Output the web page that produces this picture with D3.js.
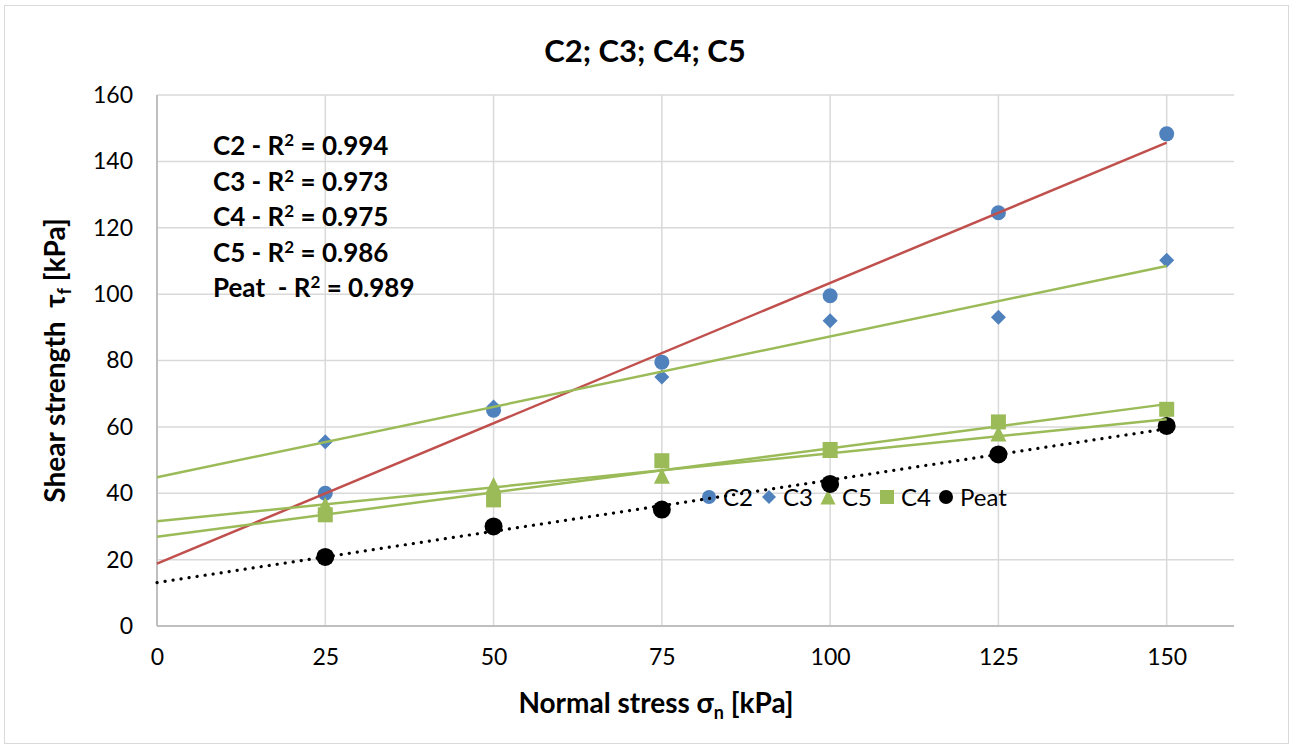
<!DOCTYPE html>
<html>
<head>
<meta charset="utf-8">
<script src="https://cdn.jsdelivr.net/npm/d3@7"></script>
<style>
  body { margin: 0; background: #fff; }
  text { font-family: Lato, "Open Sans", sans-serif; fill: #000; }
</style>
</head>
<body>
<div id="chart"></div>
<script>
// values
const stress = [25, 50, 75, 100, 125, 150]
const c2 = [40, 65, 79.5, 99.5, 124.5, 148.3]
const c3 = [55.5, 66, 75, 92, 93, 110.2]
const c5 = [36.5, 42.5, 45.3, 53, 58, 61.5]
const c4 = [33.5, 38, 49.8, 53.2, 61.5, 65.3]
const peat = [20.8, 30, 35.1, 42.8, 51.7, 60.3]
const xTicks = [0, 25, 50, 75, 100, 125, 150]
const yTicks = [0, 20, 40, 60, 80, 100, 120, 140, 160]
const r2Labels = [["C2", "0.994"], ["C3", "0.973"], ["C4", "0.975"], ["C5", "0.986"], ["Peat ", "0.989"]]

const width = 1290, height = 745
const margin = { top: 95, right: 56, bottom: 119, left: 157 }

const blue = "#4f81bd", red = "#c0504d", green = "#9bbb59"

const series = [
    { name: "C2", values: c2, marker: "circle", color: blue, trend: red, dotted: false, size: 7.5 },
    { name: "C3", values: c3, marker: "diamond", color: blue, trend: green, dotted: false, size: 7.5 },
    { name: "C5", values: c5, marker: "triangle", color: green, trend: green, dotted: false, size: 8 },
    { name: "C4", values: c4, marker: "square", color: green, trend: green, dotted: false, size: 7.5 },
    { name: "Peat", values: peat, marker: "circle", color: "#000", trend: "#000", dotted: true, size: 9 }
]

const svg = d3.select("#chart").append("svg")
    .attr("width", width)
    .attr("height", height)

svg.append("rect")
    .attr("x", 4.5).attr("y", 5.5)
    .attr("width", 1284).attr("height", 738)
    .attr("fill", "#fff")
    .attr("stroke", "#d9d9d9")
    .attr("stroke-width", 1)

const x = d3.scaleLinear().domain([0, 160]).range([margin.left, width - margin.right])
const y = d3.scaleLinear().domain([0, 160]).range([height - margin.bottom, margin.top])

// grid
const grid = svg.append("g")
grid.selectAll(".hgrid").data(yTicks.filter(d => d > 0)).join("line")
    .attr("x1", x(0)).attr("x2", x(160))
    .attr("y1", d => y(d)).attr("y2", d => y(d))
    .attr("stroke", "#d9d9d9").attr("stroke-width", 1.5)
grid.selectAll(".vgrid").data(xTicks.filter(d => d > 0)).join("line")
    .attr("x1", d => x(d)).attr("x2", d => x(d))
    .attr("y1", y(0)).attr("y2", y(160))
    .attr("stroke", "#d9d9d9").attr("stroke-width", 1.5)

// axes
const xAxis = svg.append("g")
    .attr("transform", `translate(0, ${y(0)})`)
    .call(d3.axisBottom(x).tickValues(xTicks).tickSize(0).tickPadding(23))
const yAxis = svg.append("g")
    .attr("transform", `translate(${x(0)}, 0)`)
    .call(d3.axisLeft(y).tickValues(yTicks).tickSize(0).tickPadding(24))

for (const ax of [xAxis, yAxis]) {
    ax.select(".domain").attr("stroke", "#bfbfbf").attr("stroke-width", 2)
    ax.selectAll("text").attr("font-size", "23px").attr("font-family", "Lato")
}
xAxis.select(".domain").attr("d", `M${x(0)},0H${x(160)}`)
yAxis.select(".domain").attr("d", `M0,${y(0)}V${y(160)}`)

// title + axis labels
svg.append("text")
    .attr("x", 645).attr("y", 62)
    .attr("text-anchor", "middle")
    .attr("font-weight", "bold")
    .attr("font-size", "31px")
    .text("C2; C3; C4; C5")

const xl = svg.append("text")
    .attr("x", 656).attr("y", 713)
    .attr("text-anchor", "middle")
    .attr("font-weight", "bold")
    .attr("font-size", "28px")
xl.append("tspan").text("Normal stress σ")
xl.append("tspan").attr("font-size", "18px").attr("dy", 6).text("n")
xl.append("tspan").attr("dy", -6).text(" [kPa]")

const yl = svg.append("text")
    .attr("transform", `translate(65, ${(y(0) + y(160)) / 2}) rotate(-90)`)
    .attr("text-anchor", "middle")
    .attr("font-weight", "bold")
    .attr("font-size", "28px")
    .attr("xml:space", "preserve")
yl.append("tspan").text("Shear strength  τ")
yl.append("tspan").attr("font-size", "18px").attr("dy", 6).text("f")
yl.append("tspan").attr("dy", -6).text(" [kPa]")

// R² annotation
const note = svg.append("g")
r2Labels.forEach(([name, r2], i) => {
    const t = note.append("text")
        .attr("x", 213).attr("y", 155 + i * 35.5)
        .attr("font-weight", "bold")
        .attr("font-size", "26px")
        .attr("xml:space", "preserve")
    t.append("tspan").text(`${name} - R`)
    t.append("tspan").attr("font-size", "17px").attr("dy", -9).text("2")
    t.append("tspan").attr("dy", 9).text(` = ${r2}`)
})

function markerPath(type, s) {
    if (type === "circle") return d3.arc()({ innerRadius: 0, outerRadius: s, startAngle: 0, endAngle: 2 * Math.PI })
    if (type === "diamond") return `M0,${-s}L${s},0L0,${s}L${-s},0Z`
    if (type === "triangle") return `M0,${-s}L${s},${s}L${-s},${s}Z`
    return `M${-s},${-s}H${s}V${s}H${-s}Z`
}

// legend (sits under the data in the reference)
const legendX = [709, 769, 828, 887, 946]
const legend = svg.append("g")
series.forEach((s, i) => {
    const g = legend.append("g").attr("transform", `translate(${legendX[i]}, 497)`)
    g.append("path")
        .attr("d", markerPath(s.marker, s.marker === "triangle" ? 7.5 : 7))
        .attr("fill", s.color)
    g.append("text")
        .attr("x", 14).attr("y", 8.5)
        .attr("font-size", "24px")
        .text(s.name)
})

// markers
series.forEach(s => {
    svg.append("g").selectAll("path").data(stress).join("path")
        .attr("transform", (d, i) => `translate(${x(d)}, ${y(s.values[i])})`)
        .attr("d", markerPath(s.marker, s.size))
        .attr("fill", s.color)
})

// linear trendlines, fitted like the spreadsheet did, drawn from 0 to 150
function fit(xs, ys) {
    const mx = d3.mean(xs), my = d3.mean(ys)
    const sxy = d3.sum(xs, (v, i) => (v - mx) * (ys[i] - my))
    const sxx = d3.sum(xs, v => (v - mx) ** 2)
    const slope = sxy / sxx
    return { slope, intercept: my - slope * mx }
}

series.forEach(s => {
    const { slope, intercept } = fit(stress, s.values)
    const ends = [0, 150]
    svg.append("path")
        .datum(ends)
        .attr("fill", "none")
        .attr("stroke", s.trend)
        .attr("stroke-width", s.dotted ? 3.2 : 2.5)
        .attr("stroke-linecap", s.dotted ? "round" : "butt")
        .attr("stroke-dasharray", s.dotted ? "0.1,8" : null)
        .attr("d", d3.line().x(d => x(d)).y(d => y(intercept + slope * d)))
})
</script>
</body>
</html>
